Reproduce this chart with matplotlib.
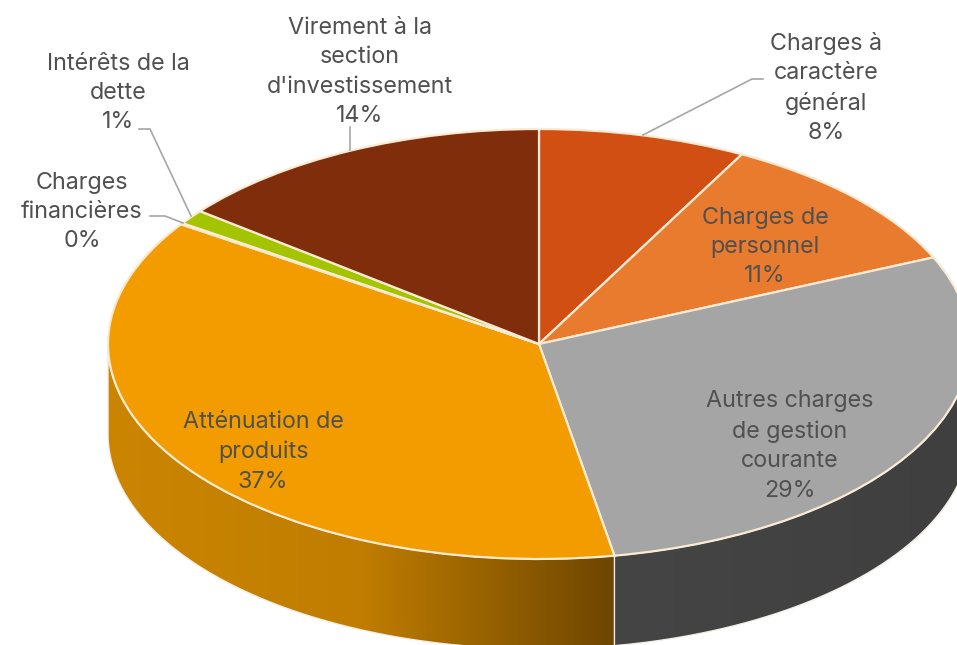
import matplotlib
matplotlib.use('Agg')
import matplotlib.pyplot as plt
import numpy as np
from matplotlib.colors import LinearSegmentedColormap
from matplotlib.patches import Polygon

categories = ['Charges à\ncaractère\ngénéral', 'Charges de\npersonnel', 'Autres charges\nde gestion\ncourante',
              'Atténuation de\nproduits', 'Charges\nfinancières', 'Intérêts de la\ndette',
              "Virement à la\nsection\nd'investissement"]
values = [7.8, 10.6, 28.8, 37.2, 0.1, 1.1, 14.4]
pct_labels = ['8%', '11%', '29%', '37%', '0%', '1%', '14%']
colors = ['#D24F14', '#E97B2E', '#A5A5A5', '#F39C00', '#F2C200', '#A5C400', '#7F2D0A']

# where the labels sit, in pixels of the picture
label_x = [826, 765, 790, 263, 82, 118, 360]
label_y = [88, 247, 446, 452, 212, 93, 72]

# leader lines, in pixels
leaders = [[(643, 135), (752, 79), (763, 79)],
           [(191, 216), (150, 129), (139, 129)],
           [(183, 223), (165, 216), (150, 216)],
           [(350, 150), (350, 127)]]

W, H = 957, 645
cx, cy, rx, ry = 539, 344, 431, 215
depth = 90 / ry


def px(x, y):
    return (x - cx) / rx, (cy - y) / ry


fig = plt.figure(figsize=(W / 100, H / 100), dpi=100)
ax = fig.add_axes([0, 0, 1, 1])

ax.pie(values, colors=colors, startangle=90, counterclock=False, radius=1,
       wedgeprops={'edgecolor': '#FBEBD5', 'linewidth': 1.6, 'zorder': 5})
ax.set_aspect('auto')

# side wall of the cake, only the front half can be seen
cum = np.cumsum(values) / sum(values) * 360
wall_spec = [(90, cum[2], '#454545', '#3F3F3F'),
             (cum[2], 270, '#6E4600', '#CB8500')]
for t0, t1, c_in, c_out in wall_spec:
    t = np.radians(np.linspace(t0, t1, 200))
    xs, ys = np.sin(t), np.cos(t)
    poly = np.column_stack([np.r_[xs, xs[::-1]], np.r_[ys, ys[::-1] - depth]])
    patch = Polygon(poly, closed=True, transform=ax.transData, facecolor='none', edgecolor='none')
    ax.add_patch(patch)
    x0, x1 = poly[:, 0].min(), poly[:, 0].max()
    if x0 < 0:
        cmap = LinearSegmentedColormap.from_list('w', [c_out, '#C07D00', c_in])
    else:
        cmap = LinearSegmentedColormap.from_list('w', [c_in, c_out])
    im = ax.imshow(np.linspace(0, 1, 256).reshape(1, -1), cmap=cmap, aspect='auto',
                   extent=[x0, x1, -1 - depth, 1], zorder=1)
    im.set_clip_path(patch)
    ax.plot(poly[:, 0], poly[:, 1], color='#F3EEE6', lw=1.0, zorder=2)

ax.set_xlim(px(0, 0)[0], px(W, 0)[0])
ax.set_ylim(px(0, H)[1], px(0, 0)[1])
ax.axis('off')

for pts in leaders:
    xy = np.array([px(*p) for p in pts])
    ax.plot(xy[:, 0], xy[:, 1], color='#A6A6A6', lw=1.2, zorder=6)

for name, pct, lx, ly in zip(categories, pct_labels, label_x, label_y):
    x, y = px(lx, ly)
    ax.text(x, y, name + '\n' + pct, ha='center', va='center', fontsize=16.8, color='#505050',
            family='Inter', linespacing=1.44, zorder=7)

fig.savefig('out.png', dpi=100)
